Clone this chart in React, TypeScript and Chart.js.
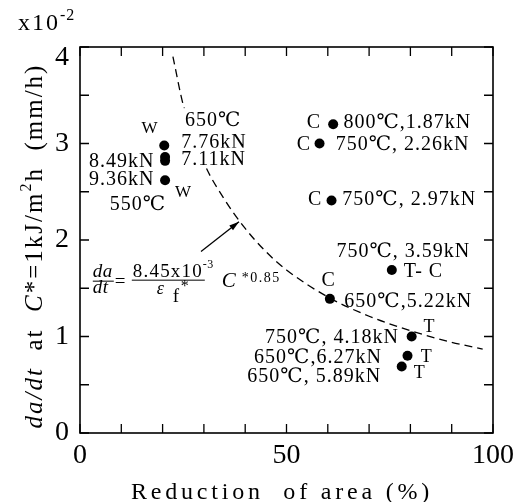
import React, { useEffect, useRef } from "react";
import { Chart, registerables } from "chart.js";

Chart.register(...registerables);

// ---- data ----
const reductionOfArea = [20.4, 20.6, 20.6, 20.6, 61.3, 58.0, 60.9, 75.5, 60.5, 80.3, 79.3, 77.9];
const crackRate = [2.98, 2.86, 2.82, 2.62, 3.2, 3.0, 2.41, 1.69, 1.39, 1.0, 0.8, 0.69];

// dashed fitted curve
const curveRA = [22.5, 25, 30, 35, 40, 45, 50, 60, 70, 80, 90, 97.5];
const curveRate = [3.9, 3.4, 2.8, 2.42, 2.12, 1.88, 1.69, 1.41, 1.21, 1.06, 0.94, 0.87];

const xTickLabels = [0, 50, 100];
const yTickLabels = [0, 1, 2, 3, 4];

const xTitle = "Reduction  of area (%)";
const yMultiplier = "x10";
const yMultiplierExp = "-2";

// annotation texts and anchors (data coords)
type Ann = { t: string; x: number; y: number; align: CanvasTextAlign; size: number; mask?: boolean };
const annotations: Ann[] = [
  { t: "650℃", x: 25.4, y: 3.18, align: "left", size: 20, mask: true },
  { t: "W", x: 14.9, y: 3.11, align: "left", size: 17 },
  { t: "7.76kN", x: 24.5, y: 2.95, align: "left", size: 20, mask: true },
  { t: "7.11kN", x: 24.5, y: 2.78, align: "left", size: 20, mask: true },
  { t: "8.49kN", x: 18.0, y: 2.76, align: "right", size: 20 },
  { t: "9.36kN", x: 18.0, y: 2.57, align: "right", size: 20 },
  { t: "W", x: 23.0, y: 2.45, align: "left", size: 17 },
  { t: "550℃", x: 7.2, y: 2.31, align: "left", size: 20 },
  { t: "C", x: 54.9, y: 3.16, align: "left", size: 20 },
  { t: "800℃,1.87kN", x: 63.8, y: 3.16, align: "left", size: 20 },
  { t: "C", x: 52.5, y: 2.93, align: "left", size: 20 },
  { t: "750℃, 2.26kN", x: 61.9, y: 2.93, align: "left", size: 20 },
  { t: "C", x: 55.2, y: 2.36, align: "left", size: 20 },
  { t: "750℃, 2.97kN", x: 63.5, y: 2.36, align: "left", size: 20 },
  { t: "750℃, 3.59kN", x: 62.1, y: 1.82, align: "left", size: 20 },
  { t: "T- C", x: 78.4, y: 1.62, align: "left", size: 20 },
  { t: "C", x: 58.5, y: 1.52, align: "left", size: 20 },
  { t: "650℃,5.22kN", x: 64.0, y: 1.31, align: "left", size: 20 },
  { t: "T", x: 83.2, y: 1.05, align: "left", size: 18 },
  { t: "750℃, 4.18kN", x: 77.2, y: 0.93, align: "right", size: 20 },
  { t: "T", x: 82.5, y: 0.74, align: "left", size: 18 },
  { t: "650℃,6.27kN", x: 73.1, y: 0.73, align: "right", size: 20 },
  { t: "T", x: 80.8, y: 0.57, align: "left", size: 18 },
  { t: "650℃, 5.89kN", x: 72.9, y: 0.53, align: "right", size: 20 },
];

const FONT = "'Liberation Serif', 'DejaVu Serif', 'Noto Sans CJK JP', serif";

type Run = { t: string; size: number; italic?: boolean; dy?: number; ls?: number };

function runsWidth(ctx: CanvasRenderingContext2D, runs: Run[], defLs: number) {
  let w = 0;
  for (const r of runs) {
    ctx.font = `${r.italic ? "italic " : ""}${r.size}px ${FONT}`;
    (ctx as any).letterSpacing = `${r.ls ?? defLs}px`;
    w += ctx.measureText(r.t).width;
  }
  return w;
}

function drawRuns(ctx: CanvasRenderingContext2D, runs: Run[], x: number, y: number, defLs: number) {
  let cx = x;
  ctx.textAlign = "left";
  ctx.textBaseline = "alphabetic";
  for (const r of runs) {
    ctx.font = `${r.italic ? "italic " : ""}${r.size}px ${FONT}`;
    (ctx as any).letterSpacing = `${r.ls ?? defLs}px`;
    ctx.fillText(r.t, cx, y + (r.dy ?? 0));
    cx += ctx.measureText(r.t).width;
  }
}

const decorPlugin = {
  id: "decor",
  afterDraw(chart: any) {
    const { ctx, chartArea: a, scales } = chart;
    const xs = scales.x;
    const ys = scales.y;
    ctx.save();
    ctx.fillStyle = "#000";
    ctx.strokeStyle = "#000";

    // frame
    ctx.lineWidth = 1.6;
    ctx.strokeRect(a.left, a.top, a.right - a.left, a.bottom - a.top);

    // inward ticks on all four sides
    const TL = 9;
    ctx.lineWidth = 1.3;
    ctx.beginPath();
    for (const t of xs.ticks) {
      const px = xs.getPixelForValue(t.value);
      ctx.moveTo(px, a.bottom);
      ctx.lineTo(px, a.bottom - TL);
      ctx.moveTo(px, a.top);
      ctx.lineTo(px, a.top + TL);
    }
    for (const t of ys.ticks) {
      const py = ys.getPixelForValue(t.value);
      ctx.moveTo(a.left, py);
      ctx.lineTo(a.left + TL, py);
      ctx.moveTo(a.right, py);
      ctx.lineTo(a.right - TL, py);
    }
    ctx.stroke();

    // top y label "4" is shifted down in the reference
    ctx.font = `28px ${FONT}`;
    (ctx as any).letterSpacing = "0px";
    ctx.textAlign = "right";
    ctx.textBaseline = "middle";
    ctx.fillText(String(yTickLabels[yTickLabels.length - 1]), a.left - 11, ys.getPixelForValue(4) + 11);

    // multiplier
    drawRuns(ctx, [
      { t: yMultiplier, size: 24 },
      { t: yMultiplierExp, size: 16, dy: -10, ls: 1 },
    ], 18, 30, 2);

    // annotations
    for (const an of annotations) {
      ctx.font = `${an.size}px ${FONT}`;
      (ctx as any).letterSpacing = "1px";
      ctx.textAlign = an.align;
      ctx.textBaseline = "alphabetic";
      const px = xs.getPixelForValue(an.x);
      const py = ys.getPixelForValue(an.y);
      if (an.mask) {
        const m = ctx.measureText(an.t);
        const left = an.align === "right" ? px - m.width : px;
        ctx.fillStyle = "#fff";
        ctx.fillRect(left - 2, py - m.actualBoundingBoxAscent - 3, m.width + 4, m.actualBoundingBoxAscent + 6);
        ctx.fillStyle = "#000";
      }
      ctx.fillText(an.t, px, py);
    }

    // equation
    const ax = xs.getPixelForValue(3.1);
    const ay = ys.getPixelForValue(1.62);
    drawRuns(ctx, [{ t: "da", size: 19, italic: true }], ax, ay, 0.5);
    drawRuns(ctx, [{ t: "dt", size: 19, italic: true }], ax, ay + 16, 0.5);
    ctx.lineWidth = 1;
    ctx.beginPath();
    ctx.moveTo(ax, ay + 4.5);
    ctx.lineTo(ax + 21, ay + 4.5);
    ctx.moveTo(ax + 39, ay + 3.5);
    ctx.lineTo(ax + 112, ay + 3.5);
    ctx.stroke();
    drawRuns(ctx, [{ t: "=", size: 19 }], ax + 22, ay + 10, 0);
    drawRuns(ctx, [{ t: "8.45x10", size: 19 }], ax + 40, ay, 1.2);
    drawRuns(ctx, [{ t: "-3", size: 12 }], ax + 110, ay - 9, 0.5);
    drawRuns(ctx, [{ t: "ε", size: 18, italic: true }], ax + 64, ay + 17, 0);
    drawRuns(ctx, [{ t: "f", size: 19 }], ax + 80, ay + 25, 0);
    drawRuns(ctx, [{ t: "*", size: 16 }], ax + 88, ay + 14, 0);
    drawRuns(ctx, [{ t: "C", size: 21, italic: true }], ax + 129, ay + 10, 0);
    drawRuns(ctx, [{ t: "*0.85", size: 14 }], ax + 149, ay + 5, 1.5);

    // arrow
    const x1 = xs.getPixelForValue(29.3), y1 = ys.getPixelForValue(1.88);
    const x2 = xs.getPixelForValue(38.5), y2 = ys.getPixelForValue(2.19);
    ctx.lineWidth = 1.3;
    ctx.beginPath();
    ctx.moveTo(x1, y1);
    ctx.lineTo(x2, y2);
    ctx.stroke();
    const ang = Math.atan2(y2 - y1, x2 - x1);
    const hl = 10, hw = 3;
    ctx.beginPath();
    ctx.moveTo(x2, y2);
    ctx.lineTo(x2 - hl * Math.cos(ang) + hw * Math.sin(ang), y2 - hl * Math.sin(ang) - hw * Math.cos(ang));
    ctx.lineTo(x2 - hl * Math.cos(ang) - hw * Math.sin(ang), y2 - hl * Math.sin(ang) + hw * Math.cos(ang));
    ctx.closePath();
    ctx.fill();

    // x title
    const xr: Run[] = [{ t: xTitle, size: 24 }];
    const xw = runsWidth(ctx, xr, 3.8);
    drawRuns(ctx, xr, 282 - xw / 2, 499, 3.8);

    // y title (rotated)
    const yr: Run[] = [
      { t: "da/dt", size: 25, italic: true },
      { t: "  at  ", size: 25 },
      { t: "C", size: 25, italic: true },
      { t: "*=1kJ/m", size: 25 },
      { t: "2", size: 16, dy: -11 },
      { t: "h  (mm/h)", size: 25 },
    ];
    const yw = runsWidth(ctx, yr, 2);
    ctx.save();
    ctx.translate(42, 246);
    ctx.rotate(-Math.PI / 2);
    drawRuns(ctx, yr, -yw / 2, 0, 2);
    ctx.restore();

    ctx.restore();
  },
};

export default function App() {
  const ref = useRef<HTMLCanvasElement>(null);
  useEffect(() => {
    const canvas = ref.current!;
    const chart = new Chart(canvas, {
      type: "scatter",
      data: {
        datasets: [
          {
            label: "fit",
            data: curveRA.map((x, i) => ({ x, y: curveRate[i] })),
            showLine: true,
            borderColor: "#000",
            borderWidth: 1.3,
            borderDash: [8, 5],
            pointRadius: 0,
            cubicInterpolationMode: "monotone",
            fill: false,
          } as any,
          {
            label: "data",
            data: reductionOfArea.map((x, i) => ({ x, y: crackRate[i] })),
            pointRadius: 5,
            pointBackgroundColor: "#000",
            pointBorderColor: "#000",
            pointBorderWidth: 0,
          },
        ],
      },
      options: {
        responsive: false,
        animation: false,
        events: [],
        layout: { padding: { left: 0, top: 47, right: 23, bottom: 0 } },
        plugins: { legend: { display: false }, tooltip: { enabled: false } },
        scales: {
          x: {
            type: "linear",
            min: 0,
            max: 100,
            grid: { display: false, drawTicks: false },
            border: { display: false },
            afterFit: (s: any) => { s.height = 69; },
            ticks: {
              stepSize: 10,
              padding: 6,
              color: "#000",
              font: { family: FONT, size: 28 },
              maxRotation: 0,
              autoSkip: false,
              callback: (v: any) => (xTickLabels.includes(Number(v)) ? String(v) : ""),
            },
          },
          y: {
            type: "linear",
            min: 0,
            max: 4,
            grid: { display: false, drawTicks: false },
            border: { display: false },
            afterFit: (s: any) => { s.width = 80; },
            ticks: {
              stepSize: 0.5,
              padding: 11,
              color: "#000",
              font: { family: FONT, size: 28 },
              autoSkip: false,
              callback: (v: any) => {
                const n = Number(v);
                return yTickLabels.includes(n) && n !== 4 ? String(n) : "";
              },
            },
          },
        },
      },
      plugins: [decorPlugin],
    });
    return () => chart.destroy();
  }, []);
  return (
    <div style={{ position: "absolute", left: 0, top: 0, width: 520, height: 502, background: "#fff" }}>
      <canvas ref={ref} width={520} height={502} style={{ display: "block", width: 520, height: 502 }} />
    </div>
  );
}
